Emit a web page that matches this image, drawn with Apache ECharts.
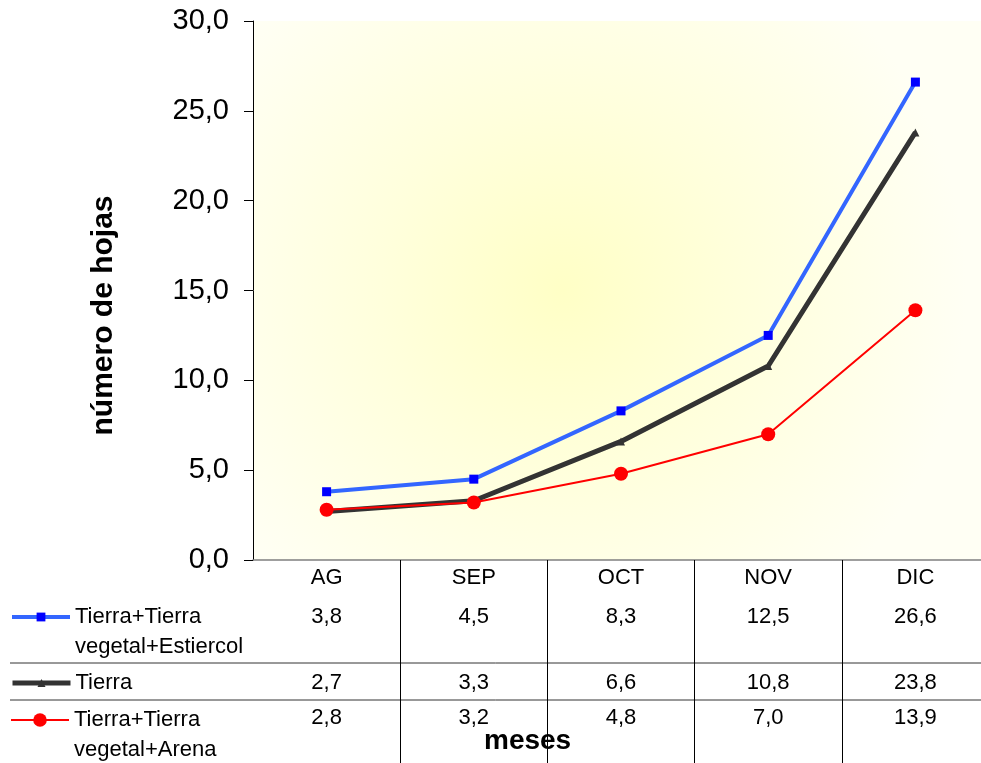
<!DOCTYPE html>
<html>
<head>
<meta charset="utf-8">
<script src="https://cdn.jsdelivr.net/npm/echarts@6/dist/echarts.min.js"></script>
<style>
  html, body { margin: 0; padding: 0; background: #fff; }
  #chart { width: 981px; height: 763px; }
</style>
</head>
<body>
<div id="chart"></div>
<script>
// Months and leaf counts per substrate
const categories = ['AG', 'SEP', 'OCT', 'NOV', 'DIC'];
const estiercol = [3.8, 4.5, 8.3, 12.5, 26.6];
const tierra = [2.7, 3.3, 6.6, 10.8, 23.8];
const arena = [2.8, 3.2, 4.8, 7.0, 13.9];
const seriesNames = ['Tierra+Tierra\nvegetal+Estiercol', 'Tierra', 'Tierra+Tierra\nvegetal+Arena'];
const yTicks = { min: 0, max: 30, interval: 5 };

const fmt = v => v.toFixed(1).replace('.', ',');
const FONT = 'Liberation Sans, Arial, sans-serif';

const chart = echarts.init(document.getElementById('chart'));

// Extra category axes print the data-table rows under each month
function tableAxis(values, offset) {
  return {
    type: 'category', data: categories, gridIndex: 0, position: 'bottom', offset: offset,
    axisLine: { show: false }, axisTick: { show: false }, splitLine: { show: false },
    axisLabel: {
      margin: 0, fontFamily: FONT, fontSize: 22, color: '#000', interval: 0,
      formatter: (v, i) => fmt(values[i])
    }
  };
}

// One legend per table row; a leading blank line keeps the key beside the first text line
function legendFor(name, top, keyHeight, lineWidth, wrapped) {
  return {
    data: [name], left: 10, top: top, padding: 0, orient: 'vertical',
    itemWidth: 58, itemHeight: keyHeight, selectedMode: false,
    lineStyle: { width: lineWidth },
    formatter: n => (wrapped ? '\n' + n : n),
    textStyle: { fontFamily: FONT, fontSize: 22, color: '#000', lineHeight: 30 }
  };
}

chart.setOption({
  animation: false,
  grid: {
    left: 253, top: 21, width: 736, bottom: 203, show: true, borderWidth: 0,
    outerBoundsMode: 'none', containLabel: false,
    backgroundColor: {
      type: 'radial', x: 0.42, y: 0.5, r: 0.75,
      colorStops: [
        { offset: 0, color: '#FFFFC6' },
        { offset: 0.45, color: '#FFFFDC' },
        { offset: 1, color: '#FFFFF4' }
      ]
    }
  },
  legend: [
    legendFor(seriesNames[0], 572, 11, 4, true),
    legendFor(seriesNames[1], 668, 10, 5, false),
    legendFor(seriesNames[2], 675, 17, 2, true)
  ],
  xAxis: [
    {
      type: 'category', data: categories, boundaryGap: true,
      axisLine: { lineStyle: { color: '#808080', width: 1.5 } },
      axisTick: {
        show: true, length: 203, inside: false,
        interval: (i) => i !== 0,
        lineStyle: { color: '#000', width: 1 }
      },
      axisLabel: { margin: 7, fontFamily: FONT, fontSize: 22, color: '#000', interval: 0 }
    },
    tableAxis(estiercol, 46),
    tableAxis(tierra, 112),
    tableAxis(arena, 147)
  ],
  yAxis: {
    type: 'value', min: yTicks.min, max: yTicks.max, interval: yTicks.interval,
    axisLine: { show: true, lineStyle: { color: '#000', width: 1 } },
    axisTick: { show: true, length: 9, lineStyle: { color: '#000' } },
    splitLine: { show: false },
    axisLabel: { margin: 24, fontFamily: FONT, fontSize: 29, color: '#000', formatter: fmt },
    name: 'número de hojas', nameLocation: 'middle', nameGap: 134, nameRotate: 90,
    nameTextStyle: {
      fontFamily: FONT, fontSize: 30, fontWeight: 'bold', color: '#000',
      padding: [0, 50, 0, 0]
    }
  },
  graphic: [
    { type: 'line', shape: { x1: 10, y1: 663, x2: 981, y2: 663 }, style: { stroke: '#333', lineWidth: 1 } },
    { type: 'line', shape: { x1: 10, y1: 700, x2: 981, y2: 700 }, style: { stroke: '#333', lineWidth: 1 } },
    {
      type: 'text', left: 484, top: 727,
      style: { text: 'meses', fontFamily: FONT, fontSize: 28, fontWeight: 'bold', fill: '#000' }
    }
  ],
  series: [
    {
      name: seriesNames[0], type: 'line', data: estiercol,
      lineStyle: { color: '#3366FF', width: 4 },
      itemStyle: { color: '#0000FF' },
      symbol: 'rect', symbolSize: 9, z: 3
    },
    {
      name: seriesNames[1], type: 'line', data: tierra,
      lineStyle: { color: '#333333', width: 5 },
      itemStyle: { color: '#333333' },
      symbol: 'triangle', symbolSize: 8, z: 2
    },
    {
      name: seriesNames[2], type: 'line', data: arena,
      lineStyle: { color: '#FF0000', width: 2 },
      itemStyle: { color: '#FF0000' },
      symbol: 'circle', symbolSize: 14, z: 4
    }
  ]
});
</script>
</body>
</html>
